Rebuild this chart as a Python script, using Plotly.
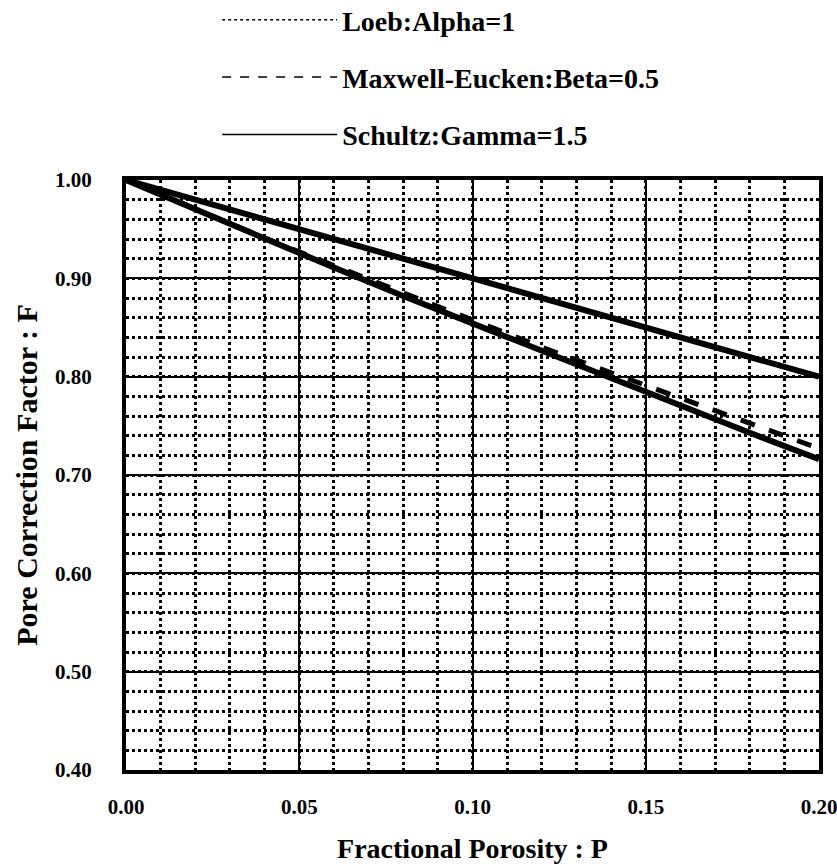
import plotly.graph_objects as go

porosity = [0.00, 0.02, 0.04, 0.06, 0.08, 0.10, 0.12, 0.14, 0.16, 0.18, 0.20]
loeb = [1.000, 0.980, 0.960, 0.940, 0.920, 0.900, 0.880, 0.860, 0.840, 0.820, 0.800]
maxwell = [1.000, 0.970, 0.941, 0.913, 0.885, 0.857, 0.830, 0.804, 0.778, 0.752, 0.727]
schultz = [1.000, 0.970, 0.941, 0.911, 0.882, 0.854, 0.826, 0.798, 0.770, 0.743, 0.716]

names = ["Loeb:Alpha=1", "Maxwell-Eucken:Beta=0.5", "Schultz:Gamma=1.5"]
legend_dash = ["dot", "dash", "solid"]
x_ticks = [0.00, 0.05, 0.10, 0.15, 0.20]
y_ticks = [0.40, 0.50, 0.60, 0.70, 0.80, 0.90, 1.00]

FONT = "Liberation Serif, Times New Roman, serif"

fig = go.Figure()

# drawn curves
fig.add_trace(go.Scatter(x=porosity, y=loeb, mode="lines", showlegend=False,
                         line=dict(color="black", width=6)))
fig.add_trace(go.Scatter(x=porosity, y=schultz, mode="lines", showlegend=False,
                         line=dict(color="black", width=6)))
fig.add_trace(go.Scatter(x=porosity, y=maxwell, mode="lines", showlegend=False,
                         line=dict(color="black", width=5, dash="dash")))

# legend entries
for i, (nm, ds) in enumerate(zip(names, legend_dash)):
    fig.add_trace(go.Scatter(x=[None], y=[None], mode="lines", name=nm,
                             legendgroup=f"g{i}",
                             line=dict(color="black", width=1.5, dash=ds)))

axis_common = dict(
    showline=True, linecolor="black", linewidth=4, mirror=True,
    showgrid=True, gridcolor="black", gridwidth=2,
    ticks="", zeroline=False, automargin=False,
    ticklabeloverflow="allow",
    tickfont=dict(family=FONT, size=21, color="black", weight="bold"),
    tickformat=".2f",
)

fig.update_xaxes(
    range=[0, 0.2], tickvals=x_ticks, ticklabelstandoff=15,
    minor=dict(dtick=0.01, showgrid=True, gridcolor="black", gridwidth=2.5, griddash="dot"),
    title=dict(text="Fractional Porosity : P", standoff=21,
               font=dict(family=FONT, size=28, color="black", weight="bold")),
    **axis_common,
)
fig.update_yaxes(
    range=[0.4, 1.0], tickvals=y_ticks, ticklabelstandoff=26,
    minor=dict(dtick=0.02, showgrid=True, gridcolor="black", gridwidth=2.5, griddash="dot"),
    title=dict(text="Pore Correction Factor : F", standoff=10,
               font=dict(family=FONT, size=30, color="black", weight="bold")),
    **axis_common,
)

fig.update_layout(
    width=837, height=867,
    margin=dict(l=126, r=18, t=180, b=97, autoexpand=False),
    paper_bgcolor="white", plot_bgcolor="white",
    legend=dict(x=0.1315, xanchor="left", y=1.3136, yanchor="top",
                traceorder="grouped", tracegroupgap=18, itemwidth=115,
                font=dict(family=FONT, size=28, color="black", weight="bold"),
                bgcolor="rgba(0,0,0,0)"),
)

fig.write_html("out.html")
